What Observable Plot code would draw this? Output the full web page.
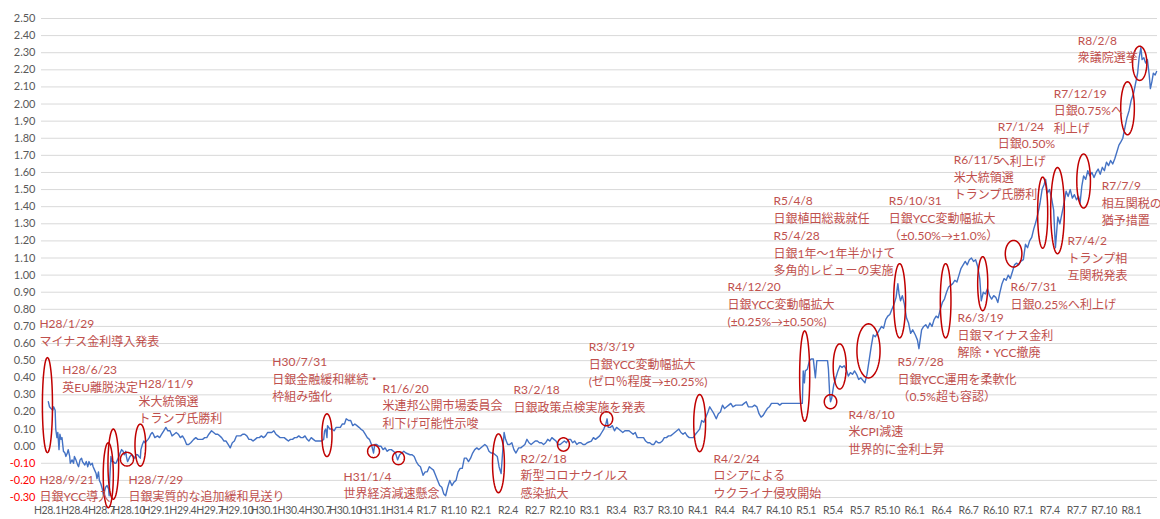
<!DOCTYPE html>
<html><head><meta charset="utf-8">
<script src="https://cdn.jsdelivr.net/npm/d3@7"></script>
<script src="https://cdn.jsdelivr.net/npm/@observablehq/plot@0.6"></script>
<style>body{margin:0;background:#fff} g[aria-label="x-axis tick label"] text{letter-spacing:-0.35px}</style>
</head><body><div id="chart"></div>
<script>
// 10-year JGB yield (%)
const yieldSeries = [
["2016-01-04",0.26],["2016-01-08",0.23],["2016-01-13",0.22],["2016-01-19",0.21],["2016-01-22",0.23],["2016-01-27",0.21],["2016-01-29",0.10],["2016-02-02",0.05],["2016-02-05",0.08],["2016-02-09",-0.02],["2016-02-12",0.07],["2016-02-16",0.04],["2016-02-19",0.05],["2016-02-24",-0.03],["2016-02-29",-0.04],["2016-03-03",-0.06],["2016-03-08",-0.04],["2016-03-11",-0.02],["2016-03-16",-0.06],["2016-03-18",-0.10],["2016-03-24",-0.08],["2016-03-29",-0.10],["2016-04-01",-0.06],["2016-04-06",-0.08],["2016-04-12",-0.11],["2016-04-15",-0.12],["2016-04-20",-0.08],["2016-04-25",-0.07],["2016-04-28",-0.09],["2016-05-06",-0.11],["2016-05-11",-0.09],["2016-05-16",-0.12],["2016-05-20",-0.09],["2016-05-25",-0.11],["2016-05-31",-0.10],["2016-06-03",-0.12],["2016-06-08",-0.14],["2016-06-13",-0.16],["2016-06-16",-0.19],["2016-06-21",-0.15],["2016-06-24",-0.20],["2016-06-29",-0.22],["2016-07-04",-0.25],["2016-07-08",-0.29],["2016-07-12",-0.26],["2016-07-15",-0.24],["2016-07-20",-0.23],["2016-07-25",-0.25],["2016-07-27",-0.29],["2016-07-29",-0.19],["2016-08-02",-0.06],["2016-08-05",-0.09],["2016-08-10",-0.09],["2016-08-15",-0.10],["2016-08-19",-0.10],["2016-08-24",-0.08],["2016-08-29",-0.06],["2016-09-02",-0.04],["2016-09-07",-0.02],["2016-09-12",-0.03],["2016-09-16",-0.05],["2016-09-21",-0.03],["2016-09-23",-0.06],["2016-09-27",-0.09],["2016-09-30",-0.08],["2016-10-05",-0.06],["2016-10-11",-0.05],["2016-10-17",-0.06],["2016-10-21",-0.07],["2016-10-26",-0.05],["2016-10-31",-0.05],["2016-11-04",-0.06],["2016-11-09",-0.07],["2016-11-11",-0.02],["2016-11-16",0.01],["2016-11-21",0.03],["2016-11-25",0.02],["2016-11-30",0.03],["2016-12-05",0.04],["2016-12-09",0.05],["2016-12-14",0.07],["2016-12-19",0.08],["2016-12-23",0.07],["2016-12-28",0.05],
["2017-01-06",0.06],["2017-01-13",0.05],["2017-01-20",0.07],["2017-01-27",0.09],["2017-02-03",0.11],["2017-02-10",0.09],["2017-02-17",0.09],["2017-02-24",0.06],["2017-03-03",0.07],["2017-03-10",0.08],["2017-03-17",0.07],["2017-03-24",0.05],["2017-03-31",0.06],["2017-04-07",0.04],["2017-04-14",0.01],["2017-04-21",0.01],["2017-04-28",0.02],["2017-05-08",0.04],["2017-05-15",0.05],["2017-05-22",0.04],["2017-05-31",0.04],["2017-06-07",0.04],["2017-06-14",0.05],["2017-06-21",0.05],["2017-06-28",0.07],["2017-07-07",0.09],["2017-07-14",0.08],["2017-07-21",0.07],["2017-07-28",0.07],["2017-08-04",0.06],["2017-08-10",0.05],["2017-08-18",0.03],["2017-08-25",0.03],["2017-09-01",0.01],["2017-09-08",-0.01],["2017-09-15",0.02],["2017-09-22",0.03],["2017-09-29",0.06],["2017-10-06",0.06],["2017-10-13",0.06],["2017-10-20",0.07],["2017-10-27",0.07],["2017-11-03",0.06],["2017-11-10",0.04],["2017-11-17",0.04],["2017-11-24",0.03],["2017-12-01",0.04],["2017-12-08",0.05],["2017-12-15",0.05],["2017-12-22",0.06],["2017-12-29",0.05],
["2018-01-05",0.06],["2018-01-12",0.08],["2018-01-19",0.08],["2018-01-26",0.08],["2018-02-02",0.09],["2018-02-09",0.07],["2018-02-16",0.06],["2018-02-23",0.05],["2018-03-02",0.05],["2018-03-09",0.05],["2018-03-16",0.04],["2018-03-23",0.03],["2018-03-30",0.04],["2018-04-06",0.04],["2018-04-13",0.05],["2018-04-20",0.05],["2018-04-27",0.06],["2018-05-04",0.05],["2018-05-11",0.05],["2018-05-18",0.06],["2018-05-25",0.04],["2018-05-31",0.03],["2018-06-08",0.05],["2018-06-15",0.04],["2018-06-22",0.03],["2018-06-29",0.03],["2018-07-06",0.03],["2018-07-13",0.03],["2018-07-20",0.04],["2018-07-23",0.09],["2018-07-27",0.10],["2018-07-31",0.05],["2018-08-02",0.12],["2018-08-10",0.10],["2018-08-17",0.10],["2018-08-24",0.09],["2018-08-31",0.11],["2018-09-07",0.11],["2018-09-14",0.11],["2018-09-21",0.13],["2018-09-28",0.13],["2018-10-04",0.16],["2018-10-12",0.15],["2018-10-19",0.15],["2018-10-26",0.12],["2018-11-02",0.13],["2018-11-09",0.12],["2018-11-16",0.11],["2018-11-22",0.10],["2018-11-30",0.09],["2018-12-07",0.07],["2018-12-14",0.05],["2018-12-21",0.04],["2018-12-28",0.01],
["2019-01-04",-0.04],["2019-01-08",0.01],["2019-01-15",0.01],["2019-01-22",0.00],["2019-01-29",0.00],["2019-02-05",-0.02],["2019-02-12",-0.01],["2019-02-19",-0.03],["2019-02-26",-0.02],["2019-03-05",-0.02],["2019-03-12",-0.03],["2019-03-19",-0.04],["2019-03-26",-0.08],["2019-04-02",-0.05],["2019-04-09",-0.04],["2019-04-16",-0.03],["2019-04-23",-0.04],["2019-05-07",-0.05],["2019-05-14",-0.05],["2019-05-21",-0.06],["2019-05-28",-0.09],["2019-06-04",-0.11],["2019-06-11",-0.12],["2019-06-20",-0.17],["2019-06-27",-0.15],["2019-07-04",-0.15],["2019-07-11",-0.12],["2019-07-18",-0.13],["2019-07-25",-0.14],["2019-08-01",-0.17],["2019-08-08",-0.20],["2019-08-15",-0.23],["2019-08-22",-0.24],["2019-08-29",-0.28],["2019-09-04",-0.29],["2019-09-11",-0.24],["2019-09-18",-0.20],["2019-09-25",-0.23],["2019-10-02",-0.21],["2019-10-09",-0.20],["2019-10-16",-0.15],["2019-10-23",-0.13],["2019-10-30",-0.13],["2019-11-06",-0.07],["2019-11-13",-0.07],["2019-11-20",-0.09],["2019-11-27",-0.07],["2019-12-04",-0.04],["2019-12-11",-0.02],["2019-12-18",-0.01],["2019-12-25",-0.02],
["2020-01-07",0.00],["2020-01-14",0.01],["2020-01-21",0.00],["2020-01-28",-0.03],["2020-02-04",-0.04],["2020-02-11",-0.04],["2020-02-18",-0.05],["2020-02-25",-0.06],["2020-03-02",-0.12],["2020-03-09",-0.16],["2020-03-13",-0.06],["2020-03-19",0.08],["2020-03-24",0.04],["2020-03-31",0.01],["2020-04-07",0.01],["2020-04-14",0.02],["2020-04-21",-0.02],["2020-04-28",-0.04],["2020-05-07",-0.01],["2020-05-14",-0.01],["2020-05-21",0.00],["2020-05-28",0.01],["2020-06-04",0.04],["2020-06-11",0.02],["2020-06-18",0.01],["2020-06-25",0.02],["2020-07-02",0.03],["2020-07-09",0.03],["2020-07-16",0.02],["2020-07-23",0.02],["2020-07-30",0.01],["2020-08-06",0.02],["2020-08-13",0.04],["2020-08-20",0.03],["2020-08-27",0.05],["2020-09-03",0.04],["2020-09-10",0.03],["2020-09-17",0.01],["2020-09-24",0.01],["2020-10-01",0.02],["2020-10-08",0.03],["2020-10-15",0.02],["2020-10-22",0.04],["2020-10-29",0.04],["2020-11-05",0.02],["2020-11-12",0.03],["2020-11-19",0.01],["2020-11-26",0.02],["2020-12-03",0.02],["2020-12-10",0.01],["2020-12-17",0.01],["2020-12-24",0.02],
["2021-01-07",0.03],["2021-01-14",0.05],["2021-01-21",0.04],["2021-01-28",0.05],["2021-02-04",0.06],["2021-02-11",0.08],["2021-02-18",0.10],["2021-02-25",0.13],["2021-03-01",0.16],["2021-03-05",0.11],["2021-03-12",0.11],["2021-03-19",0.12],["2021-03-26",0.09],["2021-04-02",0.11],["2021-04-09",0.10],["2021-04-16",0.09],["2021-04-23",0.08],["2021-04-30",0.09],["2021-05-07",0.09],["2021-05-14",0.09],["2021-05-21",0.08],["2021-05-28",0.07],["2021-06-04",0.08],["2021-06-11",0.05],["2021-06-18",0.05],["2021-06-25",0.05],["2021-07-02",0.05],["2021-07-09",0.03],["2021-07-16",0.02],["2021-07-23",0.02],["2021-07-30",0.01],["2021-08-06",0.01],["2021-08-13",0.03],["2021-08-20",0.02],["2021-08-27",0.02],["2021-09-03",0.03],["2021-09-10",0.05],["2021-09-17",0.05],["2021-09-24",0.06],["2021-10-01",0.06],["2021-10-08",0.07],["2021-10-15",0.08],["2021-10-22",0.09],["2021-10-29",0.10],["2021-11-05",0.08],["2021-11-12",0.07],["2021-11-19",0.08],["2021-11-26",0.06],["2021-12-03",0.05],["2021-12-10",0.05],["2021-12-17",0.05],["2021-12-24",0.07],
["2022-01-07",0.10],["2022-01-14",0.15],["2022-01-21",0.14],["2022-01-28",0.17],["2022-02-04",0.20],["2022-02-10",0.23],["2022-02-17",0.21],["2022-02-24",0.19],["2022-03-04",0.16],["2022-03-11",0.19],["2022-03-18",0.20],["2022-03-25",0.24],["2022-04-01",0.22],["2022-04-08",0.23],["2022-04-15",0.24],["2022-04-22",0.25],["2022-04-29",0.23],["2022-05-09",0.24],["2022-05-16",0.24],["2022-05-23",0.24],["2022-05-30",0.24],["2022-06-06",0.25],["2022-06-13",0.26],["2022-06-20",0.23],["2022-06-27",0.23],["2022-07-04",0.23],["2022-07-11",0.24],["2022-07-19",0.23],["2022-07-26",0.19],["2022-08-02",0.17],["2022-08-09",0.18],["2022-08-16",0.20],["2022-08-23",0.22],["2022-08-30",0.23],["2022-09-06",0.25],["2022-09-13",0.25],["2022-09-20",0.25],["2022-09-27",0.25],["2022-10-04",0.24],["2022-10-11",0.25],["2022-10-18",0.25],["2022-10-25",0.25],["2022-11-01",0.25],["2022-11-08",0.25],["2022-11-15",0.25],["2022-11-22",0.25],["2022-11-29",0.25],["2022-12-06",0.25],["2022-12-13",0.25],["2022-12-19",0.25],["2022-12-22",0.44],["2022-12-26",0.37],["2022-12-29",0.44],
["2023-01-05",0.45],["2023-01-12",0.50],["2023-01-18",0.51],["2023-01-25",0.51],["2023-02-01",0.40],["2023-02-06",0.50],["2023-02-14",0.50],["2023-02-21",0.50],["2023-02-28",0.50],["2023-03-07",0.50],["2023-03-14",0.50],["2023-03-17",0.45],["2023-03-21",0.31],["2023-03-24",0.26],["2023-03-28",0.28],["2023-04-04",0.36],["2023-04-11",0.40],["2023-04-18",0.44],["2023-04-25",0.47],["2023-05-02",0.46],["2023-05-09",0.47],["2023-05-16",0.45],["2023-05-23",0.41],["2023-05-30",0.43],["2023-06-06",0.42],["2023-06-13",0.44],["2023-06-20",0.42],["2023-06-27",0.39],["2023-07-04",0.40],["2023-07-18",0.37],["2023-07-25",0.42],["2023-08-01",0.50],["2023-08-08",0.58],["2023-08-15",0.65],["2023-08-22",0.64],["2023-08-29",0.66],["2023-09-05",0.68],["2023-09-12",0.70],["2023-09-19",0.69],["2023-09-26",0.74],["2023-10-03",0.76],["2023-10-10",0.77],["2023-10-17",0.80],["2023-10-24",0.83],["2023-10-31",0.87],["2023-11-06",0.95],["2023-11-10",0.89],["2023-11-15",0.85],["2023-11-21",0.88],["2023-11-28",0.83],["2023-12-05",0.75],["2023-12-12",0.72],["2023-12-19",0.66],["2023-12-26",0.68],
["2024-01-04",0.65],["2024-01-11",0.62],["2024-01-16",0.57],["2024-01-25",0.68],["2024-02-01",0.70],["2024-02-08",0.71],["2024-02-15",0.69],["2024-02-22",0.72],["2024-02-29",0.70],["2024-03-07",0.74],["2024-03-14",0.76],["2024-03-21",0.75],["2024-03-28",0.80],["2024-04-04",0.84],["2024-04-11",0.86],["2024-04-18",0.90],["2024-04-25",0.93],["2024-05-02",0.94],["2024-05-09",0.95],["2024-05-16",0.97],["2024-05-23",0.96],["2024-05-30",1.00],["2024-06-06",1.04],["2024-06-13",1.06],["2024-06-20",1.08],["2024-06-27",1.06],["2024-07-04",1.09],["2024-07-11",1.10],["2024-07-18",1.08],["2024-07-25",1.09],["2024-08-01",1.05],["2024-08-08",0.98],["2024-08-13",0.85],["2024-08-20",0.90],["2024-08-27",0.89],["2024-09-03",0.92],["2024-09-10",0.88],["2024-09-17",0.86],["2024-09-24",0.88],["2024-10-01",0.87],["2024-10-08",0.84],["2024-10-15",0.90],["2024-10-22",0.95],["2024-10-29",0.98],["2024-11-05",0.97],["2024-11-12",1.00],["2024-11-19",0.98],["2024-11-26",1.02],["2024-12-03",1.06],["2024-12-10",1.07],["2024-12-17",1.06],["2024-12-24",1.08],
["2025-01-02",1.09],["2025-01-09",1.18],["2025-01-16",1.16],["2025-01-23",1.20],["2025-01-30",1.22],["2025-02-06",1.27],["2025-02-13",1.31],["2025-02-20",1.36],["2025-02-27",1.42],["2025-03-06",1.50],["2025-03-13",1.53],["2025-03-18",1.56],["2025-03-24",1.48],["2025-03-31",1.50],["2025-04-07",1.45],["2025-04-14",1.38],["2025-04-20",1.16],["2025-04-24",1.25],["2025-04-28",1.34],["2025-05-05",1.30],["2025-05-12",1.36],["2025-05-19",1.42],["2025-05-26",1.49],["2025-06-02",1.46],["2025-06-09",1.50],["2025-06-16",1.45],["2025-06-23",1.47],["2025-06-30",1.44],["2025-07-07",1.46],["2025-07-12",1.42],["2025-07-18",1.52],["2025-07-24",1.58],["2025-07-31",1.56],["2025-08-07",1.61],["2025-08-14",1.58],["2025-08-21",1.60],["2025-08-28",1.57],["2025-09-04",1.60],["2025-09-11",1.62],["2025-09-18",1.59],["2025-09-25",1.63],["2025-10-02",1.61],["2025-10-09",1.66],["2025-10-16",1.64],["2025-10-23",1.67],["2025-10-30",1.65],["2025-11-06",1.68],["2025-11-13",1.72],["2025-11-20",1.76],["2025-11-27",1.78],["2025-12-03",1.80],["2025-12-10",1.86],["2025-12-17",1.92],["2025-12-24",1.96],["2025-12-31",2.02],
["2026-01-08",2.06],["2026-01-15",2.12],["2026-01-22",2.18],["2026-01-27",2.27],["2026-02-02",2.33],["2026-02-06",2.26],["2026-02-12",2.27],["2026-02-18",2.24],["2026-02-24",2.26],["2026-03-02",2.17],["2026-03-06",2.09],["2026-03-11",2.13],["2026-03-16",2.18],["2026-03-22",2.17],["2026-03-27",2.19]
];

// axis ticks
const yTicks = [-0.3,-0.2,-0.1,0,0.1,0.2,0.3,0.4,0.5,0.6,0.7,0.8,0.9,1.0,1.1,1.2,1.3,1.4,1.5,1.6,1.7,1.8,1.9,2.0,2.1,2.2,2.3,2.4,2.5];
const xTickLabels = ["H28.1","H28.4","H28.7","H28.10","H29.1","H29.4","H29.7","H29.10","H30.1","H30.4","H30.7","H30.10","H31.1","H31.4","R1.7","R1.10","R2.1","R2.4","R2.7","R2.10","R3.1","R3.4","R3.7","R3.10","R4.1","R4.4","R4.7","R4.10","R5.1","R5.4","R5.7","R5.10","R6.1","R6.4","R6.7","R6.10","R7.1","R7.4","R7.7","R7.10","R8.1"];

// annotation texts and their anchors (date, yield)
const noteTexts = [
"H28/1/29\nマイナス金利導入発表",
"H28/6/23\n英EU離脱決定",
"H28/11/9\n米大統領選\nトランプ氏勝利",
"H28/9/21\n日銀YCC導入",
"H28/7/29\n日銀実質的な追加緩和見送り",
"H30/7/31\n日銀金融緩和継続・\n枠組み強化",
"R1/6/20\n米連邦公開市場委員会\n利下げ可能性示唆",
"H31/1/4\n世界経済減速懸念",
"R3/2/18\n日銀政策点検実施を発表",
"R3/3/19\n日銀YCC変動幅拡大\n(ゼロ％程度→±0.25%)",
"R2/2/18\n新型コロナウイルス\n感染拡大",
"R4/2/24\nロシアによる\nウクライナ侵攻開始",
"R4/12/20\n日銀YCC変動幅拡大\n(±0.25%→±0.50%)",
"R5/4/8\n日銀植田総裁就任\nR5/4/28\n日銀1年～1年半かけて\n多角的レビューの実施",
"R4/8/10\n米CPI減速\n世界的に金利上昇",
"R5/7/28\n日銀YCC運用を柔軟化\n（0.5%超も容認）",
"R5/10/31\n日銀YCC変動幅拡大\n（±0.50%→±1.0%）",
"R6/3/19\n日銀マイナス金利\n解除・YCC撤廃",
"R6/7/31\n日銀0.25%へ利上げ",
"R6/11/5\n米大統領選\nトランプ氏勝利",
"R7/1/24\n日銀0.50%\nへ利上げ",
"R7/4/2\nトランプ相\n互関税発表",
"R7/7/9\n相互関税の\n猶予措置",
"R7/12/19\n日銀0.75%へ\n利上げ",
"R8/2/8\n衆議院選挙"
];
const noteDates = ["2015-12-05","2016-02-20","2016-11-03","2015-12-05","2016-09-30","2018-01-28","2019-02-03","2018-09-25","2020-04-20","2020-12-29","2020-05-13","2022-02-23","2022-04-11","2022-09-13","2023-05-24","2023-11-05","2023-10-06","2024-05-25","2024-11-20","2024-05-12","2024-10-08","2025-05-31","2025-09-23","2025-04-14","2025-07-04"];
const noteValues = [0.732,0.463,0.381,-0.176,-0.176,0.510,0.357,-0.158,0.346,0.598,-0.053,-0.053,0.949,1.453,0.205,0.510,1.453,0.767,0.949,1.693,1.886,1.219,1.541,2.080,2.390];

// highlighted episodes (ellipses): centre date, centre yield, half width (days), half height (yield)
const ellipseDates = ["2016-01-01","2016-07-24","2016-08-10","2016-09-25","2016-11-09","2018-07-31","2019-01-04","2019-03-29","2020-02-29","2020-10-05","2021-02-27","2022-01-07","2022-12-27","2023-03-24","2023-04-24","2023-07-30","2023-11-12","2024-04-15","2024-08-18","2024-11-30","2025-03-08","2025-04-27","2025-07-24","2025-12-19","2026-01-29"];
const ellipseValues = [0.24,-0.17,-0.105,-0.076,0.006,0.064,-0.03,-0.07,-0.10,0.01,0.16,0.135,0.41,0.26,0.466,0.557,0.85,0.85,0.95,1.125,1.365,1.377,1.55,1.975,2.238];
const ellipseHalfDays = [17,17,18,22,18,17,20,20,20,20,21,20,17,21,22,39,20,18,17,28,17,23,23,23,24];
const ellipseHalfValues = [0.278,0.19,0.205,0.04,0.123,0.125,0.037,0.038,0.172,0.039,0.041,0.167,0.264,0.041,0.132,0.158,0.217,0.217,0.158,0.078,0.208,0.252,0.158,0.155,0.10];

// ---- build tables ----
const series = yieldSeries.map(([d, v]) => ({date: new Date(d), value: v}));
const notes = noteTexts.map((t, i) => ({text: t, date: new Date(noteDates[i]), value: noteValues[i]}));
const DAY = 864e5;
const ellipsePts = [];
ellipseDates.forEach((d, i) => {
  const c = new Date(d).getTime();
  for (let k = 0; k <= 60; k++) {
    const a = (k / 60) * 2 * Math.PI;
    ellipsePts.push({id: i, date: new Date(c + ellipseHalfDays[i] * DAY * Math.cos(a)), value: ellipseValues[i] + ellipseHalfValues[i] * Math.sin(a)});
  }
});
const xTickDates = xTickLabels.map((_, i) => new Date(Date.UTC(2016, i * 3, 1)));
const labelOf = new Map(xTickDates.map((d, i) => [+d, xTickLabels[i]]));

const chart = Plot.plot({
  width: 1160, height: 519,
  marginLeft: 41, marginRight: 3, marginTop: 18, marginBottom: 22,
  x: {type: "utc", domain: [new Date("2015-12-12"), new Date("2026-03-30")]},
  y: {domain: [-0.3, 2.5]},
  style: {fontFamily: "Lato, 'Noto Sans CJK JP', sans-serif", background: "#fff", overflow: "visible"},
  marks: [
    Plot.ruleY(yTicks, {stroke: "#d9d9d9", strokeWidth: 1}),
    Plot.axisY(yTicks.filter(d => d < 0), {tickSize: 0, tickPadding: 6, tickFormat: d => d.toFixed(2), fill: "#ff0000", fontSize: 11, label: null}),
    Plot.axisY(yTicks.filter(d => d >= 0), {tickSize: 0, tickPadding: 6, tickFormat: d => d.toFixed(2), fill: "#595959", fontSize: 11, label: null}),
    Plot.axisX(xTickDates, {tickSize: 0, tickPadding: 9, tickFormat: d => labelOf.get(+d), fill: "#595959", fontSize: 10.5, label: null}),
    Plot.line(series, {x: "date", y: "value", stroke: "#4472C4", strokeWidth: 1.4}),
    Plot.line(ellipsePts, {x: "date", y: "value", z: "id", stroke: "#C00000", strokeWidth: 1.5}),
    Plot.text(notes, {x: "date", y: "value", text: "text", textAnchor: "start", lineAnchor: "top", dy: -5, lineHeight: 1.46, fontSize: 12, fill: "#C0504D"})
  ]
});
document.getElementById("chart").appendChild(chart);
</script>
</body></html>
